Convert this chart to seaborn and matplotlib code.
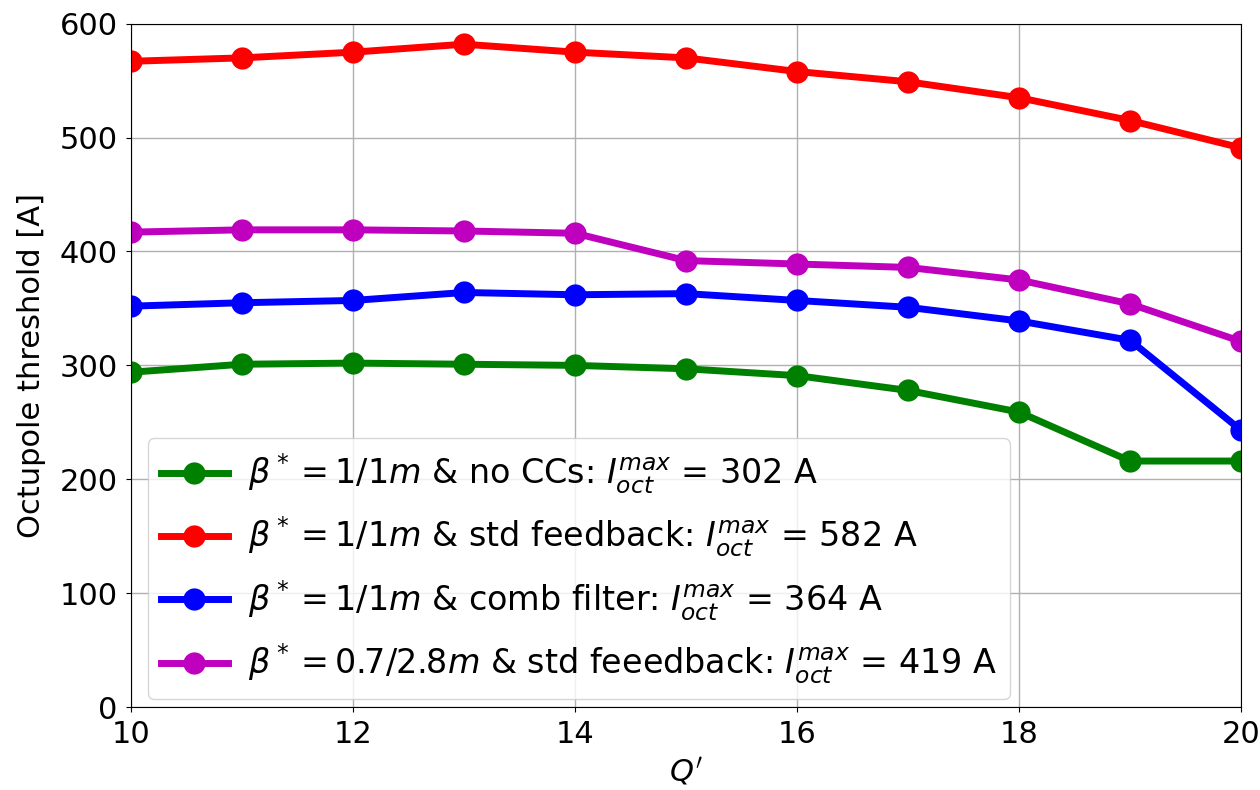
import matplotlib

matplotlib.use("Agg")

import matplotlib.pyplot as plt
import pandas as pd
import seaborn as sns

Q_PRIME = [10, 11, 12, 13, 14, 15, 16, 17, 18, 19, 20]

NO_CCS = [294, 301, 302, 301, 300, 297, 291, 278, 259, 216, 216]
STD_FEEDBACK = [567, 570, 575, 582, 575, 570, 558, 549, 535, 515, 491]
COMB_FILTER = [352, 355, 357, 364, 362, 363, 357, 351, 339, 322, 243]
STD_FEEDBACK_07 = [417, 419, 419, 418, 416, 392, 389, 386, 375, 354, 321]

LABELS = [
    r"$\beta^*=1/1m$ & no CCs: $I_{oct}^{max}$ = 302 A",
    r"$\beta^*=1/1m$ & std feedback: $I_{oct}^{max}$ = 582 A",
    r"$\beta^*=1/1m$ & comb filter: $I_{oct}^{max}$ = 364 A",
    r"$\beta^*=0.7/2.8m$ & std feeedback: $I_{oct}^{max}$ = 419 A",
]
COLORS = ["green", "red", "blue", "m"]


def build_frame() -> pd.DataFrame:
    parts = []
    for label, values in zip(LABELS, [NO_CCS, STD_FEEDBACK, COMB_FILTER, STD_FEEDBACK_07]):
        parts.append(pd.DataFrame({"Q": Q_PRIME, "threshold": values, "case": label}))
    return pd.concat(parts, ignore_index=True)


def main() -> None:
    df = build_frame()

    plt.rcParams["font.size"] = 24
    plt.rcParams["mathtext.fontset"] = "dejavusans"

    fig, ax = plt.subplots(figsize=(12.6, 7.9), dpi=100)
    fig.subplots_adjust(left=0.104, right=0.985, top=0.970, bottom=0.105)

    sns.lineplot(
        data=df,
        x="Q",
        y="threshold",
        hue="case",
        hue_order=LABELS,
        palette=COLORS,
        marker="o",
        markersize=16,
        markeredgewidth=0,
        linewidth=5,
        ax=ax,
    )

    ax.set_xlim(10, 20)
    ax.set_ylim(0, 600)
    ax.set_xticks([10, 12, 14, 16, 18, 20])
    ax.set_yticks(range(0, 601, 100))
    ax.grid(True, color="#b0b0b0", linewidth=1)
    ax.set_xlabel(r"$Q'$", fontsize=22)
    ax.set_ylabel("Octupole threshold [A]", fontsize=22, labelpad=10)
    ax.tick_params(labelsize=22, pad=6)

    handles, labels = ax.get_legend_handles_labels()
    ax.legend(
        handles,
        labels,
        loc="lower left",
        bbox_to_anchor=(0.0, -0.013),
        fontsize=24,
        handlelength=2.0,
        handletextpad=0.6,
        labelspacing=0.57,
        framealpha=0.8,
    )

    fig.savefig("out.png", dpi=100)
    plt.close(fig)


if __name__ == "__main__":
    main()
